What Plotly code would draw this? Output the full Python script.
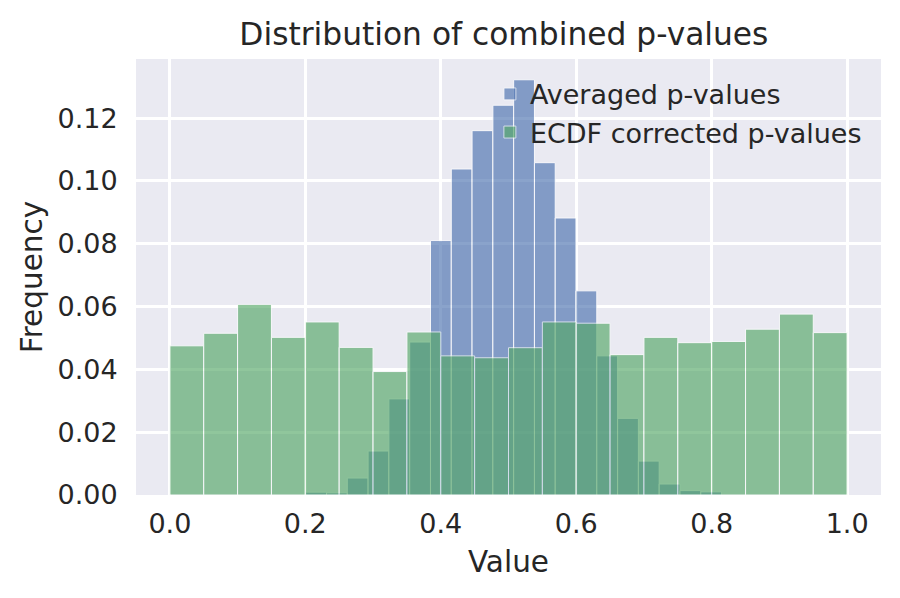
import numpy as np
import plotly.graph_objects as go

# 直方图数据（从参考图读取，纵轴为每个分箱的占比）
avg_bin_start = 0.2006
avg_bin_width = 0.0307
avg_freq = [0.0009, 0.0007, 0.0054, 0.0140, 0.0306, 0.0487, 0.0810, 0.1038,
            0.1160, 0.1241, 0.1322, 0.1058, 0.0882, 0.0650, 0.0443, 0.0244,
            0.0108, 0.0035, 0.0014, 0.0010]

ecdf_bin_start = 0.0
ecdf_bin_width = 0.05
ecdf_freq = [0.0475, 0.0515, 0.0607, 0.0502, 0.0551, 0.0470, 0.0393, 0.0519,
             0.0443, 0.0437, 0.0469, 0.0551, 0.0547, 0.0447, 0.0502, 0.0485,
             0.0489, 0.0528, 0.0576, 0.0517]

x_ticks = [0.0, 0.2, 0.4, 0.6, 0.8, 1.0]
y_ticks = [0.00, 0.02, 0.04, 0.06, 0.08, 0.10, 0.12]

BLUE = "#4C72B0"
GREEN = "#55A868"
TEXT = "#262626"
FONT = "DejaVu Sans"


def centers(start, width, n):
    return start + width * (np.arange(n) + 0.5)


fig = go.Figure()
fig.add_trace(go.Bar(
    x=centers(avg_bin_start, avg_bin_width, len(avg_freq)),
    y=avg_freq,
    width=avg_bin_width,
    name="Averaged p-values",
    marker=dict(color=BLUE, line=dict(color="white", width=1)),
    opacity=0.65,
))
fig.add_trace(go.Bar(
    x=centers(ecdf_bin_start, ecdf_bin_width, len(ecdf_freq)),
    y=ecdf_freq,
    width=ecdf_bin_width,
    name="ECDF corrected p-values",
    marker=dict(color=GREEN, line=dict(color="white", width=1)),
    opacity=0.65,
))

# 坐标范围按 matplotlib 的 5% 边距
top = max(max(avg_freq), max(ecdf_freq)) * 1.05

# 页面 body 自带 8px 边距，这里左/上各少留 8px 抵消
fig.update_layout(
    width=900, height=598,
    barmode="overlay",
    paper_bgcolor="white",
    plot_bgcolor="#EAEAF2",
    margin=dict(l=128, r=27, t=51, b=111),
    font=dict(family=FONT, size=27, color=TEXT),
    title=dict(text="Distribution of combined p-values", x=0.551, xanchor="center",
               y=0.957, yanchor="middle", yref="container",
               font=dict(size=31.3, color=TEXT)),
    legend=dict(x=0.475, y=0.975, xanchor="left", yanchor="top",
                bgcolor="rgba(0,0,0,0)", font=dict(size=27, color=TEXT)),
    showlegend=True,
)
fig.update_xaxes(
    range=[-0.05, 1.05], tickvals=x_ticks, tickformat=".1f",
    showgrid=True, gridcolor="white", gridwidth=2.5, zeroline=False,
    ticks="outside", ticklen=5, tickcolor="rgba(0,0,0,0)",
    showline=False,
    title=dict(text="Value", font=dict(size=29.5, color=TEXT), standoff=12),
)
fig.update_yaxes(
    range=[0, top], tickvals=y_ticks, tickformat=".2f",
    showgrid=True, gridcolor="white", gridwidth=2.5, zeroline=False,
    ticks="outside", ticklen=12, tickcolor="rgba(0,0,0,0)",
    showline=False,
    title=dict(text="Frequency", font=dict(size=29.5, color=TEXT), standoff=6),
)

fig.write_html("out.html")
